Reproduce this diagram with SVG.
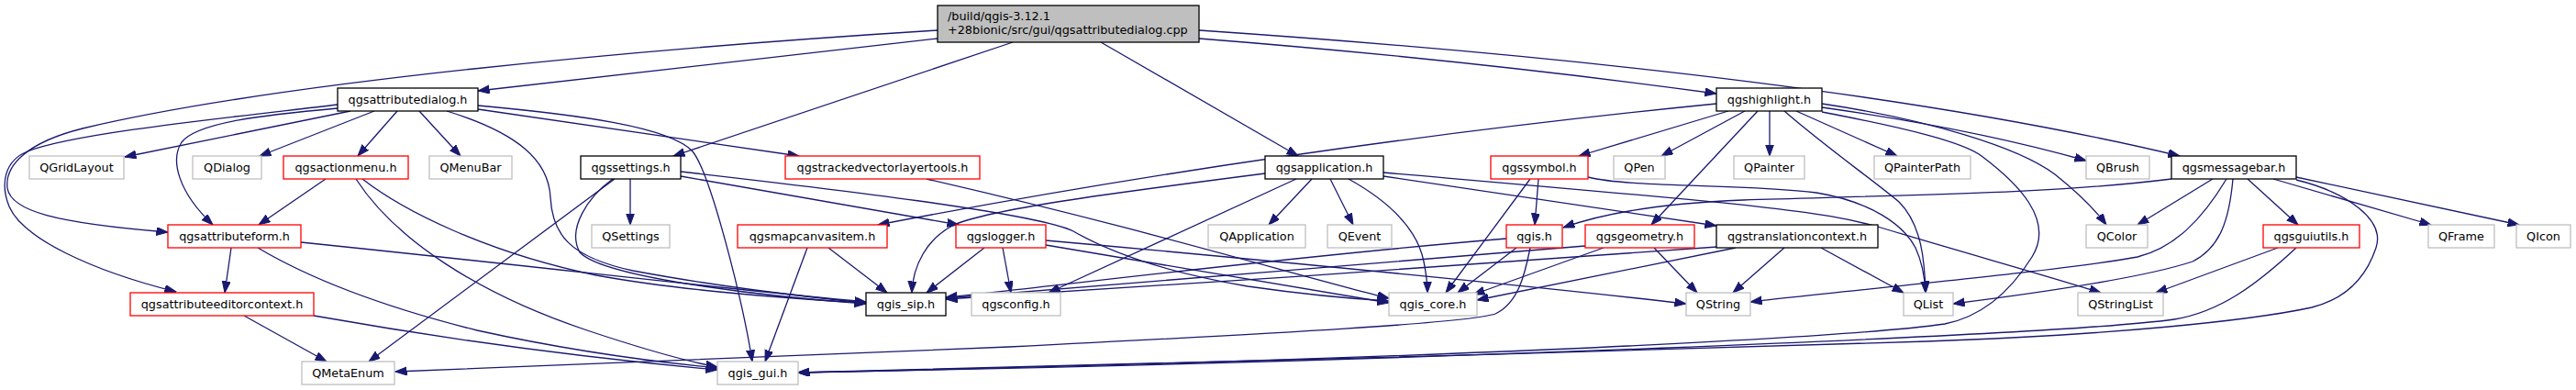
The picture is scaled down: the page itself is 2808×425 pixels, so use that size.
<svg xmlns="http://www.w3.org/2000/svg" width="2808" height="425" viewBox="0 0 2808 425">
<style>
text{font-family:"DejaVu Sans","Liberation Sans",sans-serif;font-size:12.8px;fill:#000}
.c{text-anchor:middle}
rect{stroke-width:1.3}
.k{fill:#fff;stroke:#000}
.g{fill:#fff;stroke:#bfbfbf}
.r{fill:#fff;stroke:#ff0000}
.t{fill:#bfbfbf;stroke:#000}
#edges path{fill:none;stroke:#191970;stroke-width:1.3;marker-end:url(#a)}
</style>
<defs>
<marker id="a" markerWidth="13" markerHeight="10" refX="12.5" refY="4.5" orient="auto" markerUnits="userSpaceOnUse">
<path d="M0,0 L12.5,4.5 L0,9 z" fill="#191970" stroke="#191970" stroke-width="1"/>
</marker>
</defs>
<rect x="0" y="0" width="2808" height="425" fill="#fff"/>
<g id="edges">
<path d="M1022,42 L521,99"/>
<path d="M1022,33 C700,53 300,90 90,140 C30,155 5,180 8,205 C12,230 60,243 183,253"/>
<path d="M1104,46 L734,170"/>
<path d="M1200,46 L1415,170"/>
<path d="M1307,42 Q1600,65 1871,102"/>
<path d="M1307,33 Q2000,80 2376,170"/>
<path d="M382,121 L136,171"/>
<path d="M408,121 L283,170"/>
<path d="M433,121 L390,170"/>
<path d="M457,121 L502,170"/>
<path d="M368,118 C290,125 215,133 198,155 C185,175 195,210 232,245"/>
<path d="M368,114 C250,128 80,145 30,165 C5,175 0,200 10,225 C25,260 100,295 192,318"/>
<path d="M521,119 L871,170"/>
<path d="M521,115 C630,125 730,138 755,165 C775,190 810,330 820,394"/>
<path d="M487,121 C565,145 598,175 600,215 C602,255 620,280 690,295 C780,312 890,325 944,330"/>
<path d="M355,195 L282,245"/>
<path d="M395,195 C440,230 530,275 650,300 C760,320 890,327 944,330"/>
<path d="M388,195 C430,260 520,320 640,360 C700,380 745,393 782,400"/>
<path d="M252,270 L245,319"/>
<path d="M328,264 C600,292 800,316 944,329"/>
<path d="M281,270 C340,305 420,335 520,360 C620,382 710,394 782,401"/>
<path d="M266,344 L356,394"/>
<path d="M342,344 C500,372 660,392 782,403"/>
<path d="M687,195 L687,245"/>
<path d="M670,195 L402,394"/>
<path d="M668,195 C640,215 618,250 632,275 C660,305 860,325 944,331"/>
<path d="M742,187 C900,205 1130,232 1170,252 C1205,272 1260,295 1360,312 C1430,322 1480,326 1514,328"/>
<path d="M742,192 L1045,245"/>
<path d="M1010,195 C1250,250 1430,305 1514,325"/>
<path d="M1430,195 L1383,245"/>
<path d="M1450,195 L1475,245"/>
<path d="M1470,195 C1515,220 1545,250 1552,285 C1555,300 1556,310 1556,319"/>
<path d="M1379,189 C1200,212 1080,228 1040,245 C1010,260 995,290 994,319"/>
<path d="M1413,195 L1143,319"/>
<path d="M1508,188 C1900,222 1980,228 2050,248 C2150,278 2230,300 2290,319"/>
<path d="M1508,192 L1871,246"/>
<path d="M903,270 L967,319"/>
<path d="M880,270 L834,394"/>
<path d="M1073,270 L1010,319"/>
<path d="M1093,270 L1102,319"/>
<path d="M1140,267 C1300,295 1420,315 1514,330"/>
<path d="M1140,262 C1400,285 1700,315 1838,331"/>
<path d="M1871,113 Q1400,160 957,245"/>
<path d="M1884,121 L1721,170"/>
<path d="M1902,121 L1811,170"/>
<path d="M1916,121 L1800,245"/>
<path d="M1929,121 L1929,170"/>
<path d="M1945,121 C1990,160 2040,195 2070,220 C2095,245 2098,285 2099,319"/>
<path d="M1958,121 L2068,170"/>
<path d="M1986,117 Q2150,140 2274,175"/>
<path d="M1986,113 C2100,130 2200,160 2240,190 C2265,210 2285,230 2296,245"/>
<path d="M1986,122 C2080,140 2140,155 2160,170 C2200,200 2240,240 2215,280 C2190,320 2160,345 2120,353 C2000,370 1500,393 870,406"/>
<path d="M1677,195 L1673,245"/>
<path d="M1668,195 L1576,319"/>
<path d="M1731,193 C1780,205 1900,200 1980,210 C2040,220 2075,245 2088,270 C2095,285 2098,300 2099,319"/>
<path d="M1642,260 C1400,280 1150,312 1031,324"/>
<path d="M1653,270 L1589,319"/>
<path d="M1668,270 C1662,300 1655,330 1630,342 C1600,352 1400,363 1100,378 C800,390 600,398 431,405"/>
<path d="M1728,268 C1550,282 1200,312 1031,325"/>
<path d="M1748,270 L1606,321"/>
<path d="M1803,270 L1850,319"/>
<path d="M1872,269 C1700,282 1250,313 1031,326"/>
<path d="M1892,270 L1610,327"/>
<path d="M1945,270 L1889,319"/>
<path d="M1985,270 L2075,319"/>
<path d="M2367,195 C2250,210 2100,212 1900,218 C1800,222 1740,235 1704,248"/>
<path d="M2412,195 L2330,245"/>
<path d="M2427,195 C2400,240 2370,270 2330,280 C2250,295 2000,318 1908,329"/>
<path d="M2434,195 C2430,240 2420,270 2390,285 C2330,305 2200,322 2129,331"/>
<path d="M2450,195 L2505,245"/>
<path d="M2478,195 L2650,245"/>
<path d="M2503,193 L2746,245"/>
<path d="M2503,196 C2560,210 2600,240 2590,270 C2580,300 2560,325 2520,335 C2450,350 2300,365 2100,372 C1700,385 1200,398 870,406"/>
<path d="M2483,270 L2350,319"/>
<path d="M2503,270 C2460,310 2420,340 2370,348 C2250,365 1500,395 870,406"/>
</g>
<g id="n_top"><rect class="t" x="1022" y="6" width="285" height="40"/><text x="1033" y="22">/build/qgis-3.12.1</text><text x="1033" y="37">+28bionic/src/gui/qgsattributedialog.cpp</text></g>
<g id="n_qgsattributedialog"><rect class="k" x="368" y="96" width="153" height="25"/><text class="c" x="444.5" y="113">qgsattributedialog.h</text></g>
<g id="n_qgshighlight"><rect class="k" x="1871" y="96" width="115" height="25"/><text class="c" x="1928.5" y="113">qgshighlight.h</text></g>
<g id="n_QGridLayout"><rect class="g" x="32" y="170" width="103" height="25"/><text class="c" x="83.5" y="187">QGridLayout</text></g>
<g id="n_QDialog"><rect class="g" x="210" y="170" width="75" height="25"/><text class="c" x="247.5" y="187">QDialog</text></g>
<g id="n_qgsactionmenu"><rect class="r" x="309" y="170" width="136" height="25"/><text class="c" x="377" y="187">qgsactionmenu.h</text></g>
<g id="n_QMenuBar"><rect class="g" x="468" y="170" width="90" height="25"/><text class="c" x="513" y="187">QMenuBar</text></g>
<g id="n_qgssettings"><rect class="k" x="633" y="170" width="109" height="25"/><text class="c" x="687.5" y="187">qgssettings.h</text></g>
<g id="n_qgstrackedvectorlayertools"><rect class="r" x="856" y="170" width="212" height="25"/><text class="c" x="962" y="187">qgstrackedvectorlayertools.h</text></g>
<g id="n_qgsapplication"><rect class="k" x="1379" y="170" width="129" height="25"/><text class="c" x="1443.5" y="187">qgsapplication.h</text></g>
<g id="n_qgssymbol"><rect class="r" x="1625" y="170" width="106" height="25"/><text class="c" x="1678" y="187">qgssymbol.h</text></g>
<g id="n_QPen"><rect class="g" x="1759" y="170" width="56" height="25"/><text class="c" x="1787" y="187">QPen</text></g>
<g id="n_QPainter"><rect class="g" x="1890" y="170" width="77" height="25"/><text class="c" x="1928.5" y="187">QPainter</text></g>
<g id="n_QPainterPath"><rect class="g" x="2043" y="170" width="105" height="25"/><text class="c" x="2095.5" y="187">QPainterPath</text></g>
<g id="n_QBrush"><rect class="g" x="2274" y="170" width="69" height="25"/><text class="c" x="2308.5" y="187">QBrush</text></g>
<g id="n_qgsmessagebar"><rect class="k" x="2367" y="170" width="136" height="25"/><text class="c" x="2435" y="187">qgsmessagebar.h</text></g>
<g id="n_qgsattributeform"><rect class="r" x="183" y="245" width="145" height="25"/><text class="c" x="255.5" y="262">qgsattributeform.h</text></g>
<g id="n_QSettings"><rect class="g" x="645" y="245" width="85" height="25"/><text class="c" x="687.5" y="262">QSettings</text></g>
<g id="n_qgsmapcanvasitem"><rect class="r" x="804" y="245" width="163" height="25"/><text class="c" x="885.5" y="262">qgsmapcanvasitem.h</text></g>
<g id="n_qgslogger"><rect class="r" x="1042" y="245" width="98" height="25"/><text class="c" x="1091" y="262">qgslogger.h</text></g>
<g id="n_QApplication"><rect class="g" x="1317" y="245" width="106" height="25"/><text class="c" x="1370" y="262">QApplication</text></g>
<g id="n_QEvent"><rect class="g" x="1447" y="245" width="70" height="25"/><text class="c" x="1482" y="262">QEvent</text></g>
<g id="n_qgis"><rect class="r" x="1642" y="245" width="61" height="25"/><text class="c" x="1672.5" y="262">qgis.h</text></g>
<g id="n_qgsgeometry"><rect class="r" x="1728" y="245" width="119" height="25"/><text class="c" x="1787.5" y="262">qgsgeometry.h</text></g>
<g id="n_qgstranslationcontext"><rect class="k" x="1871" y="245" width="176" height="25"/><text class="c" x="1959" y="262">qgstranslationcontext.h</text></g>
<g id="n_QColor"><rect class="g" x="2274" y="245" width="67" height="25"/><text class="c" x="2307.5" y="262">QColor</text></g>
<g id="n_qgsguiutils"><rect class="r" x="2467" y="245" width="105" height="25"/><text class="c" x="2519.5" y="262">qgsguiutils.h</text></g>
<g id="n_QFrame"><rect class="g" x="2647" y="245" width="72" height="25"/><text class="c" x="2683" y="262">QFrame</text></g>
<g id="n_QIcon"><rect class="g" x="2743" y="245" width="59" height="25"/><text class="c" x="2772.5" y="262">QIcon</text></g>
<g id="n_qgsattributeeditorcontext"><rect class="r" x="142" y="319" width="200" height="25"/><text class="c" x="242" y="336">qgsattributeeditorcontext.h</text></g>
<g id="n_qgis_sip"><rect class="k" x="944" y="319" width="87" height="25"/><text class="c" x="987.5" y="336">qgis_sip.h</text></g>
<g id="n_qgsconfig"><rect class="g" x="1059" y="319" width="97" height="25"/><text class="c" x="1107.5" y="336">qgsconfig.h</text></g>
<g id="n_qgis_core"><rect class="g" x="1514" y="319" width="96" height="25"/><text class="c" x="1562" y="336">qgis_core.h</text></g>
<g id="n_QString"><rect class="g" x="1838" y="319" width="70" height="25"/><text class="c" x="1873" y="336">QString</text></g>
<g id="n_QList"><rect class="g" x="2075" y="319" width="54" height="25"/><text class="c" x="2102" y="336">QList</text></g>
<g id="n_QStringList"><rect class="g" x="2265" y="319" width="93" height="25"/><text class="c" x="2311.5" y="336">QStringList</text></g>
<g id="n_QMetaEnum"><rect class="g" x="329" y="394" width="101" height="25"/><text class="c" x="379.5" y="411">QMetaEnum</text></g>
<g id="n_qgis_gui"><rect class="g" x="782" y="394" width="88" height="25"/><text class="c" x="826" y="411">qgis_gui.h</text></g>
</svg>
